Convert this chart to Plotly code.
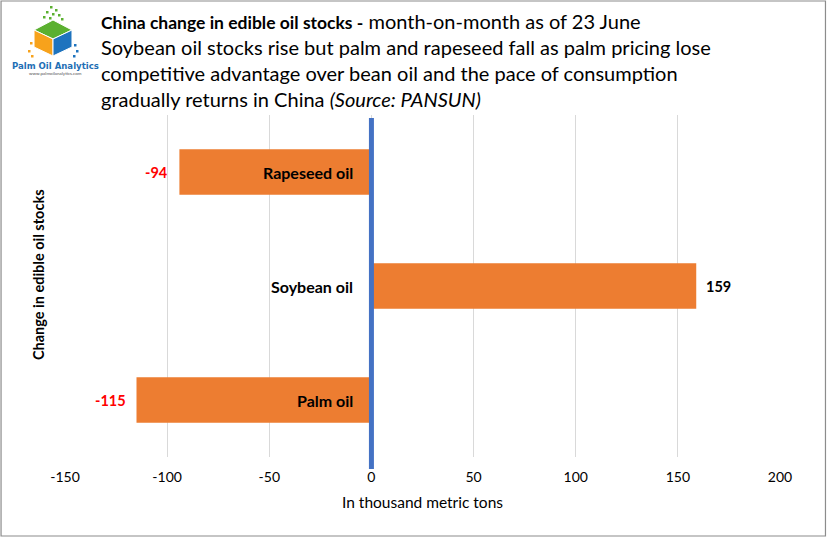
import plotly.graph_objects as go

categories = ["Palm oil", "Soybean oil", "Rapeseed oil"]
values = [-115, 159, -94]
tick_vals = [-150, -100, -50, 0, 50, 100, 150, 200]
tick_text = ["-150", "-100", "-50", "0", "50", "100", "150", "200"]

W, H = 828, 539
L, R, T, B = 65, 47.5, 115, 82
pw, ph = W - L - R, H - T - B

def px(x):
    return (x - L) / pw

def py(y):
    return (H - B - y) / ph

FONT = "Lato, Carlito, Calibri, sans-serif"

fig = go.Figure()
fig.add_trace(go.Bar(
    x=values, y=categories, orientation="h",
    marker=dict(color="#ED7D31", line=dict(width=0)),
    width=0.4, hoverinfo="skip"
))

annotations = []
for c, v in zip(categories, values):
    annotations.append(dict(
        x=0, y=c, xref="x", yref="y", text="<b>%s</b>" % c, showarrow=False,
        xanchor="right", xshift=-16, font=dict(size=16, color="black", family=FONT)
    ))
    annotations.append(dict(
        x=v, y=c, xref="x", yref="y", text="<b>%d</b>" % v, showarrow=False,
        xanchor="right" if v < 0 else "left", xshift=-9 if v < 0 else 8,
        font=dict(size=14.5, color="#FF0000" if v < 0 else "black", family=FONT)
    ))

title_html = ("<b><span style=\"font-size:17.5px\">China change in edible oil stocks -</span></b> month-on-month as of 23 June<br>"
              "Soybean oil stocks rise but palm and rapeseed fall as palm pricing lose<br>"
              "competitive advantage over bean oil and the pace of consumption<br>"
              "gradually returns in China <i>(Source: PANSUN)</i>")
annotations.append(dict(
    x=px(99), y=py(7), xref="paper", yref="paper", text=title_html, showarrow=False,
    xanchor="left", yanchor="top", align="left",
    font=dict(size=20, color="black", family=FONT)
))
annotations.append(dict(
    x=px(38), y=py(275), xref="paper", yref="paper", text="<b>Change in edible oil stocks</b>",
    showarrow=False, textangle=-90, xanchor="center", yanchor="middle",
    font=dict(size=14.5, color="black", family=FONT)
))
annotations.append(dict(
    x=px(55), y=py(65), xref="paper", yref="paper", text="<b>Palm Oil Analytics</b>",
    showarrow=False, xanchor="center", yanchor="middle",
    font=dict(size=9.5, color="#1F6FB5", family="DejaVu Sans Condensed, Liberation Sans Narrow, sans-serif")
))
annotations.append(dict(
    x=px(55), y=py(73), xref="paper", yref="paper", text="www.palmoilanalytics.com",
    showarrow=False, xanchor="center", yanchor="middle",
    font=dict(size=4.5, color="#555", family=FONT)
))

def poly(pts, color):
    path = "M " + " L ".join("%f,%f" % (px(a), py(b)) for a, b in pts) + " Z"
    return dict(type="path", xref="paper", yref="paper", path=path,
                fillcolor=color, line=dict(color="white", width=1))

def dot(x, y, color, s=2.5):
    return dict(type="rect", xref="paper", yref="paper", x0=px(x), x1=px(x + s),
                y0=py(y + s), y1=py(y), fillcolor=color, line=dict(width=0))

shapes = [
    dict(type="rect", xref="paper", yref="paper", x0=px(1), x1=px(826), y0=py(536), y1=py(1),
         line=dict(color="#8C8C8C", width=1.2), fillcolor="rgba(0,0,0,0)", layer="below"),
    dict(type="line", xref="x", yref="paper", x0=0, x1=0, y0=py(469), y1=py(118),
         line=dict(color="#4472C4", width=5)),
    poly([(34, 30), (53, 20), (72, 30), (53, 39)], "#5BB030"),
    poly([(34, 30), (53, 39), (53, 56), (34, 47)], "#F7A21B"),
    poly([(53, 39), (72, 30), (72, 47), (53, 56)], "#1E73BE"),
]
for (dx, dy) in [(50, 6), (55, 9), (46, 11), (52, 13), (58, 14), (43, 16), (61, 18), (49, 17)]:
    shapes.append(dot(dx, dy, "#5BB030"))
for (dx, dy) in [(30, 42), (28, 50), (31, 55)]:
    shapes.append(dot(dx, dy, "#F7A21B"))
for (dx, dy) in [(74, 44), (76, 50), (73, 55)]:
    shapes.append(dot(dx, dy, "#1E73BE"))

fig.update_layout(
    width=W, height=H,
    margin=dict(l=L, r=R, t=T, b=B),
    paper_bgcolor="white", plot_bgcolor="white",
    showlegend=False,
    font=dict(family=FONT, color="black"),
    xaxis=dict(
        range=[-150, 200], tickvals=tick_vals, ticktext=tick_text,
        showgrid=True, gridcolor="#D9D9D9", gridwidth=1, zeroline=False,
        showline=False, ticks="", ticklabelstandoff=10,
        tickfont=dict(size=14, color="black", family=FONT),
        title=dict(text="In thousand metric tons", font=dict(size=15.5, color="black", family=FONT), standoff=13),
        fixedrange=True
    ),
    yaxis=dict(
        categoryorder="array", categoryarray=categories,
        showticklabels=False, showgrid=False, zeroline=False, showline=False, ticks="",
        range=[-0.5, 2.5], fixedrange=True
    ),
    annotations=annotations,
    shapes=shapes,
)

fig.write_html("out.html", config={"displayModeBar": False},
               post_script="document.body.style.margin='0';document.body.style.overflow='hidden';")
